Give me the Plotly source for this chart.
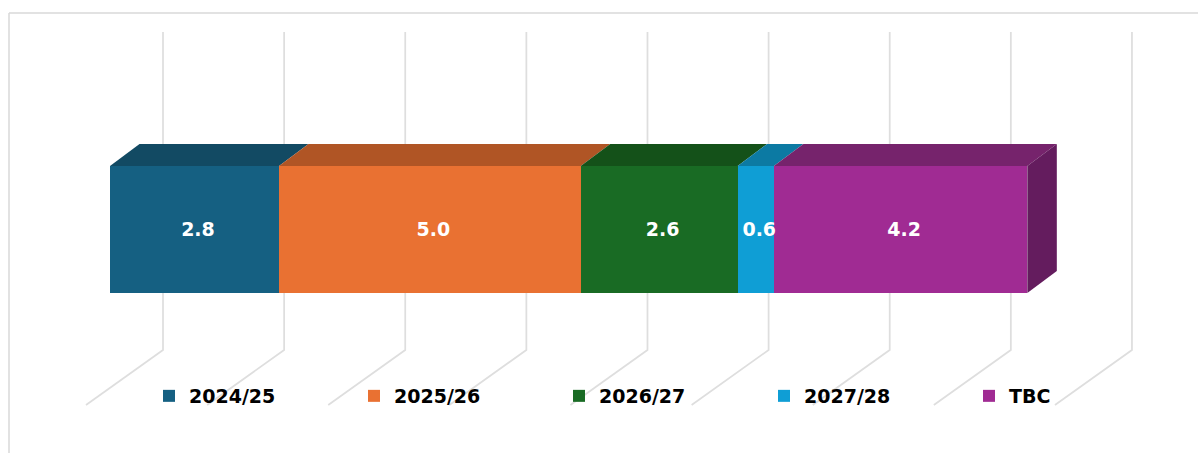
import plotly.graph_objects as go

categories = ["2024/25", "2025/26", "2026/27", "2027/28", "TBC"]
values = [2.8, 5.0, 2.6, 0.6, 4.2]
front_colors = ["#156082", "#E97132", "#196B24", "#0F9ED5", "#A02B93"]
top_colors = ["#124A63", "#B05525", "#145119", "#0C7AA3", "#76236C"]
side_color = "#641C5E"
grid_ticks = [0, 2, 4, 6, 8, 10, 12, 14, 16]

W, H = 1198, 453
BAR_SCALE = 60.35      # px per unit for the bar, at its depth in the box
GRID_SCALE = 60.56     # px per unit on the back wall
BAR_X0, GRID_X0 = 110.0, 163
FONT = "DejaVu Sans"

fig = go.Figure()

# Back wall and floor gridlines (lowest axes pair)
gx, gy = [], []
for t in grid_ticks:
    gx += [t - 77 / GRID_SCALE, t, t, None]
    gy += [405, 350, 32, None]
fig.add_trace(go.Scatter(x=gx, y=gy, mode="lines", showlegend=False, hoverinfo="skip",
                         line=dict(color="#DEDEDE", width=1.75), xaxis="x", yaxis="y"))

# Front faces of the stacked bar
for c, v, col in zip(categories, values, front_colors):
    fig.add_trace(go.Bar(
        x=[v], y=[229.5], name=c, orientation="h", width=127,
        marker=dict(color=col, line=dict(width=0)),
        hovertemplate="%{x:.1f}<extra>" + c + "</extra>",
        xaxis="x2", yaxis="y2"))

# Top faces and end face, derived from the same values
dx = 29.5 / BAR_SCALE
start = 0
mids = []
for v, col in zip(values, top_colors):
    end = start + v
    mids.append(start + v / 2)
    fig.add_trace(go.Scatter(
        x=[start, start + dx, end + dx, end, start], y=[166, 144, 144, 166, 166],
        mode="lines", fill="toself", fillcolor=col, line=dict(width=0),
        showlegend=False, hoverinfo="skip", xaxis="x2", yaxis="y2"))
    start = end
fig.add_trace(go.Scatter(
    x=[start, start + dx, start + dx, start, start], y=[166, 144, 271, 293, 166],
    mode="lines", fill="toself", fillcolor=side_color, line=dict(width=0),
    showlegend=False, hoverinfo="skip", xaxis="x2", yaxis="y2"))

# Value labels, sitting slightly right of each segment's centre as in the reference
fig.add_trace(go.Scatter(
    x=[m + 3.5 / BAR_SCALE for m in mids], y=[231] * len(mids), mode="text",
    text=[f"{v:.1f}" for v in values], textposition="middle center",
    textfont=dict(color="white", size=19, family=FONT, weight="bold"),
    showlegend=False, hoverinfo="skip", cliponaxis=False, xaxis="x2", yaxis="y2"))

hidden = dict(visible=False, fixedrange=True)
fig.update_layout(
    width=W, height=H, barmode="stack", autosize=False,
    margin=dict(l=0, r=0, t=0, b=0),
    paper_bgcolor="white", plot_bgcolor="rgba(0,0,0,0)",
    xaxis=dict(range=[-GRID_X0 / GRID_SCALE, (W - GRID_X0) / GRID_SCALE], domain=[0, 1], **hidden),
    yaxis=dict(range=[H, 0], domain=[0, 1], **hidden),
    xaxis2=dict(range=[-BAR_X0 / BAR_SCALE, (W - BAR_X0) / BAR_SCALE], overlaying="x", **hidden),
    yaxis2=dict(range=[H, 0], overlaying="y", **hidden),
    legend=dict(orientation="h", x=149 / W, y=1 - 396 / H, xanchor="left", yanchor="middle",
                entrywidth=160, entrywidthmode="pixels", traceorder="normal",
                bgcolor="rgba(0,0,0,0)", tracegroupgap=0,
                font=dict(size=19, color="black", family=FONT, weight="bold")),
    shapes=[
        dict(type="line", xref="paper", yref="paper", x0=9 / W, x1=1, y0=1 - 13 / H, y1=1 - 13 / H,
             line=dict(color="#D9D9D9", width=1.5)),
        dict(type="line", xref="paper", yref="paper", x0=9 / W, x1=9 / W, y0=0, y1=1 - 13 / H,
             line=dict(color="#D9D9D9", width=1.5)),
    ],
)

fig.write_html("out.html", config=dict(displayModeBar=False),
               post_script="document.body.style.margin='0';document.body.style.overflow='hidden';")
